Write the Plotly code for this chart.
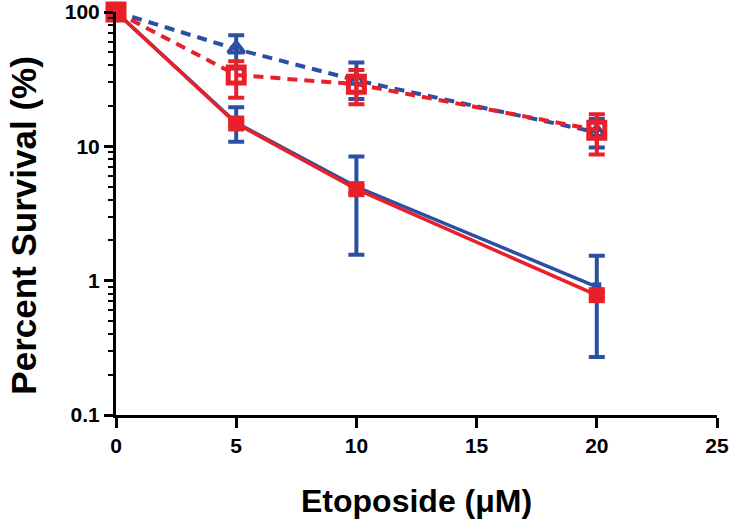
import plotly.graph_objects as go

# Data
dose = [0, 5, 10, 20]

blue_solid = [100, 15, 5.0, 0.9]
blue_solid_hi = [100, 19.5, 8.4, 1.53]
blue_solid_lo = [100, 10.8, 1.56, 0.27]

red_solid = [100, 14.8, 4.8, 0.78]
red_solid_hi = [100, 15.5, 5.1, 0.82]
red_solid_lo = [100, 14.1, 4.5, 0.74]

blue_dash = [100, 53, 31, 12.7]
blue_dash_hi = [100, 67, 42, 16]
blue_dash_lo = [100, 38, 22.5, 9.8]

red_dash = [100, 34, 29, 13.2]
red_dash_hi = [100, 43, 37, 17.3]
red_dash_lo = [100, 23, 20.6, 8.7]

x_ticks = [0, 5, 10, 15, 20, 25]
y_ticks = [0.1, 1, 10, 100]
y_ticktext = ["0.1", "1", "10", "100"]
y_minor = [m * d for d in [0.1, 1, 10] for m in range(2, 10)]

x_title = "Etoposide (μM)"
y_title = "Percent Survival (%)"

BLUE = "#2B4FA3"
RED = "#E8202A"


def err(vals, hi, lo, color):
    return dict(type="data", symmetric=False,
                array=[h - v for h, v in zip(hi, vals)],
                arrayminus=[v - l for v, l in zip(vals, lo)],
                color=color, thickness=4, width=8)


fig = go.Figure()

fig.add_trace(go.Scatter(
    x=dose, y=blue_dash, mode="lines+markers", cliponaxis=False,
    line=dict(color=BLUE, width=4, dash="10px,7px"),
    marker=dict(symbol="triangle-up-open", size=14, color=BLUE, line=dict(width=4, color=BLUE)),
    error_y=err(blue_dash, blue_dash_hi, blue_dash_lo, BLUE)))

fig.add_trace(go.Scatter(
    x=dose, y=red_dash, mode="lines+markers", cliponaxis=False,
    line=dict(color=RED, width=4, dash="10px,7px"),
    marker=dict(symbol="square-open", size=16, color=RED, line=dict(width=5, color=RED)),
    error_y=err(red_dash, red_dash_hi, red_dash_lo, RED)))

fig.add_trace(go.Scatter(
    x=dose, y=blue_solid, mode="lines+markers", cliponaxis=False,
    line=dict(color=BLUE, width=3.5),
    marker=dict(symbol="square", size=9, color=BLUE),
    error_y=err(blue_solid, blue_solid_hi, blue_solid_lo, BLUE)))

fig.add_trace(go.Scatter(
    x=dose, y=red_solid, mode="lines+markers", cliponaxis=False,
    line=dict(color=RED, width=3.5),
    marker=dict(symbol="square", size=16, color=RED),
    error_y=err(red_solid, red_solid_hi, red_solid_lo, RED)))

tick_font = dict(family="Liberation Sans, Arial", size=21, color="black", weight="bold")
title_font_x = dict(family="Liberation Sans, Arial", size=32, color="black", weight="bold")
title_font_y = dict(family="Liberation Sans, Arial", size=35, color="black", weight="bold")

fig.update_layout(
    width=735, height=521,
    margin=dict(l=116, r=18, t=12, b=106),
    plot_bgcolor="white", paper_bgcolor="white",
    showlegend=False,
    xaxis=dict(
        range=[0, 25], tickvals=x_ticks, ticks="outside", ticklen=10, tickwidth=3,
        tickcolor="black", showline=True, linecolor="black", linewidth=3,
        showgrid=False, zeroline=False, tickfont=tick_font, automargin=False,
    ),
    yaxis=dict(
        type="log", range=[-1, 2], tickvals=y_ticks, ticktext=y_ticktext,
        ticks="outside", ticklen=9, tickwidth=3, tickcolor="black",
        showline=True, linecolor="black", linewidth=3,
        showgrid=False, zeroline=False, tickfont=tick_font, automargin=False,
        minor=dict(tickvals=y_minor, ticks="outside", ticklen=5, tickwidth=2,
                   tickcolor="black", showgrid=False),
    ),
    annotations=[
        dict(text=x_title, xref="paper", yref="paper", x=0.5, y=-0.213,
             xanchor="center", yanchor="middle", showarrow=False, font=title_font_x),
        dict(text=y_title, xref="paper", yref="paper", x=-0.153, y=0.47,
             xanchor="center", yanchor="middle", textangle=-90, showarrow=False,
             font=title_font_y),
    ],
)

fig.write_html("out.html",
               config={"displayModeBar": False},
               post_script="document.body.style.margin='0px';document.body.style.overflow='hidden';")
